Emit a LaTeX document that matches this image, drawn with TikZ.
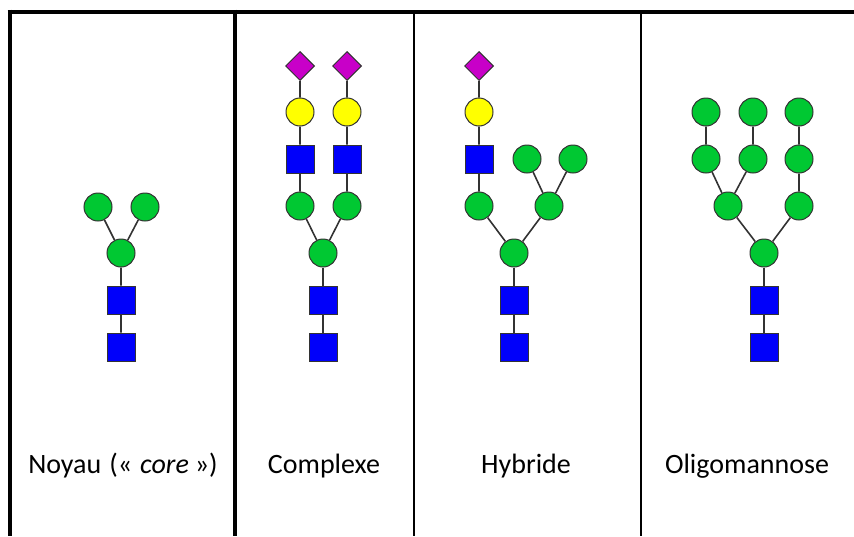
\documentclass[tikz,border=0pt]{standalone}
\usepackage{fontspec}
\setmainfont{Carlito}
\usetikzlibrary{shapes.geometric,positioning}

\definecolor{mangreen}{RGB}{0,200,50}
\definecolor{galyellow}{RGB}{255,255,0}
\definecolor{glcblue}{RGB}{0,0,250}
\definecolor{siapurple}{RGB}{200,0,200}
\definecolor{bord}{RGB}{51,51,51}

\tikzset{
  res/.style={draw=bord,line width=1pt,inner sep=0pt,minimum size=28pt},
  man/.style={res,circle,fill=mangreen},
  gal/.style={res,circle,fill=galyellow},
  glc/.style={res,rectangle,fill=glcblue},
  sia/.style={res,diamond,fill=siapurple,minimum size=29pt},
  lien/.style={draw=bord,line width=1.6pt},
  gros/.style={line width=4pt},
  fin/.style={line width=2pt},
  titre/.style={anchor=base,font=\fontsize{28}{33}\selectfont}
}

\begin{document}
\begin{tikzpicture}[x=1pt,y=-1pt]
    \useasboundingbox (0,0) rectangle (854,536);

    % cadre du tableau
    \draw[gros] (7.5,11.5) -- (854,11.5);
    \draw[gros] (9.5,9.5) -- (9.5,536);
    \draw[gros] (234.5,9.5) -- (234.5,536);
    \draw[fin] (414,12) -- (414,536);
    \draw[fin] (640.5,12) -- (640.5,536);

    % noyau
    \node[man] (a1) at (98,207) {};
    \node[man] (a2) at (145,207) {};
    \node[man] (a3) at (121,253) {};
    \node[glc] (a4) at (121,300) {};
    \node[glc] (a5) at (121,347) {};
    \draw[lien] (a1) -- (a3) (a2) -- (a3) (a3) -- (a4) (a4) -- (a5);

    % complexe
    \node[sia] (b1) at (300,66) {};
    \node[sia] (b2) at (347,66) {};
    \node[gal] (b3) at (300,112) {};
    \node[gal] (b4) at (347,112) {};
    \node[glc] (b5) at (300,159) {};
    \node[glc] (b6) at (347,159) {};
    \node[man] (b7) at (300,206) {};
    \node[man] (b8) at (347,206) {};
    \node[man] (b9) at (323,253) {};
    \node[glc] (b10) at (323,300) {};
    \node[glc] (b11) at (323,347) {};
    \draw[lien] (b1) -- (b3) -- (b5) -- (b7) -- (b9);
    \draw[lien] (b2) -- (b4) -- (b6) -- (b8) -- (b9);
    \draw[lien] (b9) -- (b10) -- (b11);

    % hybride
    \node[sia] (c1) at (479,66) {};
    \node[gal] (c2) at (479,112) {};
    \node[glc] (c3) at (479,159) {};
    \node[man] (c4) at (479,206) {};
    \node[man] (c5) at (527,159) {};
    \node[man] (c6) at (573,159) {};
    \node[man] (c7) at (549,206) {};
    \node[man] (c8) at (514,253) {};
    \node[glc] (c9) at (514,300) {};
    \node[glc] (c10) at (514,347) {};
    \draw[lien] (c1) -- (c2) -- (c3) -- (c4) -- (c8);
    \draw[lien] (c5) -- (c7) (c6) -- (c7) (c7) -- (c8);
    \draw[lien] (c8) -- (c9) -- (c10);

    % oligomannose
    \node[man] (d1) at (706,112) {};
    \node[man] (d2) at (753,112) {};
    \node[man] (d3) at (799,112) {};
    \node[man] (d4) at (706,159) {};
    \node[man] (d5) at (753,159) {};
    \node[man] (d6) at (799,159) {};
    \node[man] (d7) at (728,206) {};
    \node[man] (d8) at (799,206) {};
    \node[man] (d9) at (764,253) {};
    \node[glc] (d10) at (764,300) {};
    \node[glc] (d11) at (764,347) {};
    \draw[lien] (d1) -- (d4) -- (d7) -- (d9);
    \draw[lien] (d2) -- (d5) -- (d7);
    \draw[lien] (d3) -- (d6) -- (d8) -- (d9);
    \draw[lien] (d9) -- (d10) -- (d11);

    % titres
    \node[titre] (t1) at (123,473) {Noyau\hspace{8pt}(«\hspace{8pt}\textit{core}\hspace{6pt}»)};
    \node[titre] (t2) at (324,473) {Complexe};
    \node[titre] (t3) at (526,473) {Hybride};
    \node[titre] (t4) at (747,473) {Oligomannose};
\end{tikzpicture}
\end{document}
